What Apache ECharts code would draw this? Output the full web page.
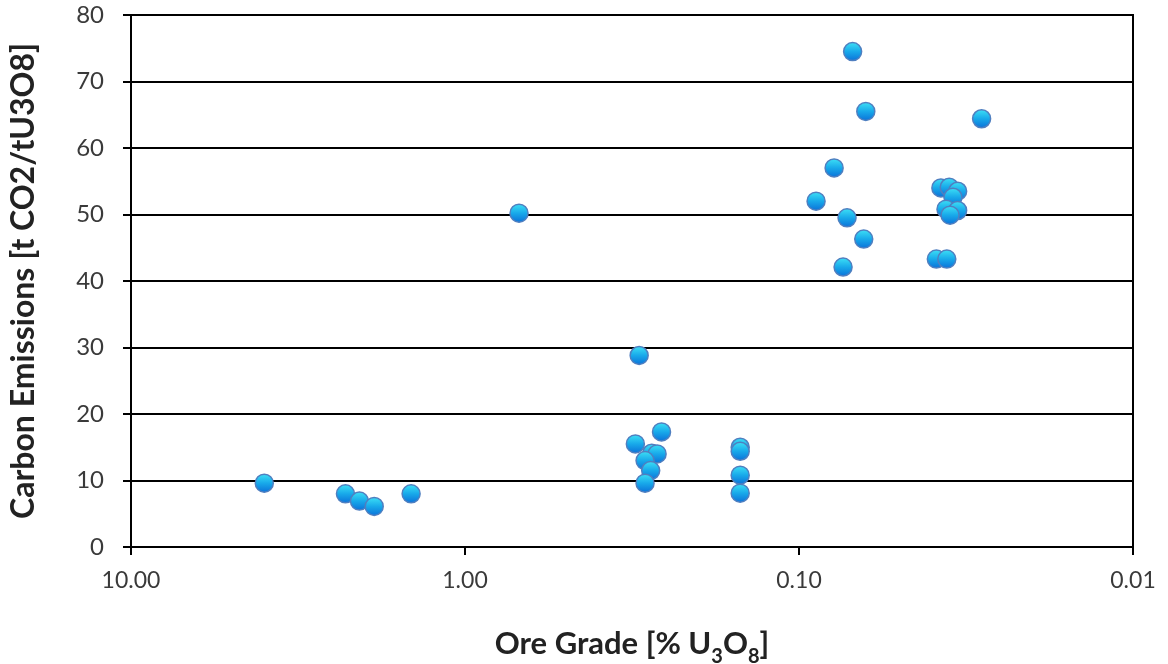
<!DOCTYPE html>
<html>
<head>
<meta charset="utf-8">
<script src="https://cdn.jsdelivr.net/npm/echarts@6/dist/echarts.min.js"></script>
<style>
html,body{margin:0;padding:0;background:#fff;}
#chart{width:1168px;height:664px;}
</style>
</head>
<body>
<div id="chart"></div>
<script>
// Ore grade (% U3O8) and carbon emissions (t CO2 / t U3O8)
var oreGrade = [
  3.99, 2.28, 2.07, 1.87, 1.45,
  0.689,
  0.301, 0.258, 0.309, 0.276, 0.266, 0.289, 0.278, 0.289,
  0.150, 0.150, 0.150, 0.150,
  0.0691, 0.0631, 0.0284, 0.0785, 0.0889, 0.0718, 0.0640, 0.0738,
  0.0376, 0.0355, 0.0335, 0.0346, 0.0363, 0.0335, 0.0353, 0.0388, 0.0361
];
var emissions = [
  9.6, 8.0, 6.9, 6.1, 8.0,
  50.2,
  28.8, 17.3, 15.5, 14.1, 14.0, 13.0, 11.5, 9.6,
  15.0, 14.4, 10.8, 8.1,
  74.5, 65.5, 64.4, 57.0, 52.0, 49.5, 46.3, 42.1,
  54.0, 54.1, 53.5, 52.6, 50.8, 50.6, 49.9, 43.3, 43.3
];
var yTicks = [0, 10, 20, 30, 40, 50, 60, 70, 80];
var xTicks = [10, 1, 0.1, 0.01];

var points = oreGrade.map(function (g, i) { return [g, emissions[i]]; });

var chart = echarts.init(document.getElementById('chart'), null, {renderer: 'canvas'});
chart.setOption({
  animation: false,
  backgroundColor: '#ffffff',
  grid: {
    left: 131, right: 35, top: 15, bottom: 117,
    containLabel: false,
    outerBoundsMode: 'none',
    show: true, borderColor: '#000000', borderWidth: 2, backgroundColor: 'transparent'
  },
  xAxis: {
    type: 'log',
    logBase: 10,
    inverse: true,
    min: xTicks[xTicks.length - 1],
    max: xTicks[0],
    axisLine: {show: true, lineStyle: {color: '#000000', width: 2}},
    axisTick: {show: true, inside: false, length: 8, lineStyle: {color: '#000000', width: 2}},
    minorTick: {show: false},
    splitLine: {show: false},
    axisLabel: {
      margin: 22,
      fontFamily: 'Lato',
      fontSize: 23,
      color: '#3a3a3a',
      formatter: function (v) { return Number(v).toFixed(2); }
    },
    name: '{b|Ore Grade [% U}{s|3}{b|O}{s|8}{b|]}',
    nameLocation: 'middle',
    nameGap: 76,
    nameTextStyle: {
      rich: {
        b: {fontFamily: 'Lato', fontWeight: 'bold', fontSize: 31, color: '#222222', lineHeight: 36, verticalAlign: 'bottom'},
        s: {fontFamily: 'Lato', fontWeight: 'bold', fontSize: 20, color: '#222222', lineHeight: 36, verticalAlign: 'bottom', padding: [0, 0, -8, 0]}
      }
    }
  },
  yAxis: {
    type: 'value',
    min: yTicks[0],
    max: yTicks[yTicks.length - 1],
    interval: 10,
    axisLine: {show: true, lineStyle: {color: '#000000', width: 2}},
    axisTick: {show: true, inside: false, length: 8, lineStyle: {color: '#000000', width: 2}},
    splitLine: {show: true, lineStyle: {color: '#000000', width: 2}},
    axisLabel: {
      margin: 27,
      fontFamily: 'Lato',
      fontSize: 24,
      color: '#3a3a3a'
    },
    name: 'Carbon Emissions [t CO2/tU3O8]',
    nameLocation: 'middle',
    nameGap: 91,
    nameRotate: 90,
    nameTextStyle: {fontFamily: 'Lato', fontWeight: 'bold', fontSize: 32, color: '#222222'}
  },
  series: [{
    type: 'scatter',
    data: points,
    symbol: 'circle',
    symbolSize: 18,
    itemStyle: {
      color: new echarts.graphic.LinearGradient(0, 0, 0, 1, [
        {offset: 0, color: '#3fe3f6'},
        {offset: 0.5, color: '#18a9ea'},
        {offset: 1, color: '#0a6fd8'}
      ]),
      borderColor: '#4f7fc0',
      borderWidth: 1.5,
      opacity: 1
    },
    emphasis: {disabled: true}
  }]
});
</script>
</body>
</html>
